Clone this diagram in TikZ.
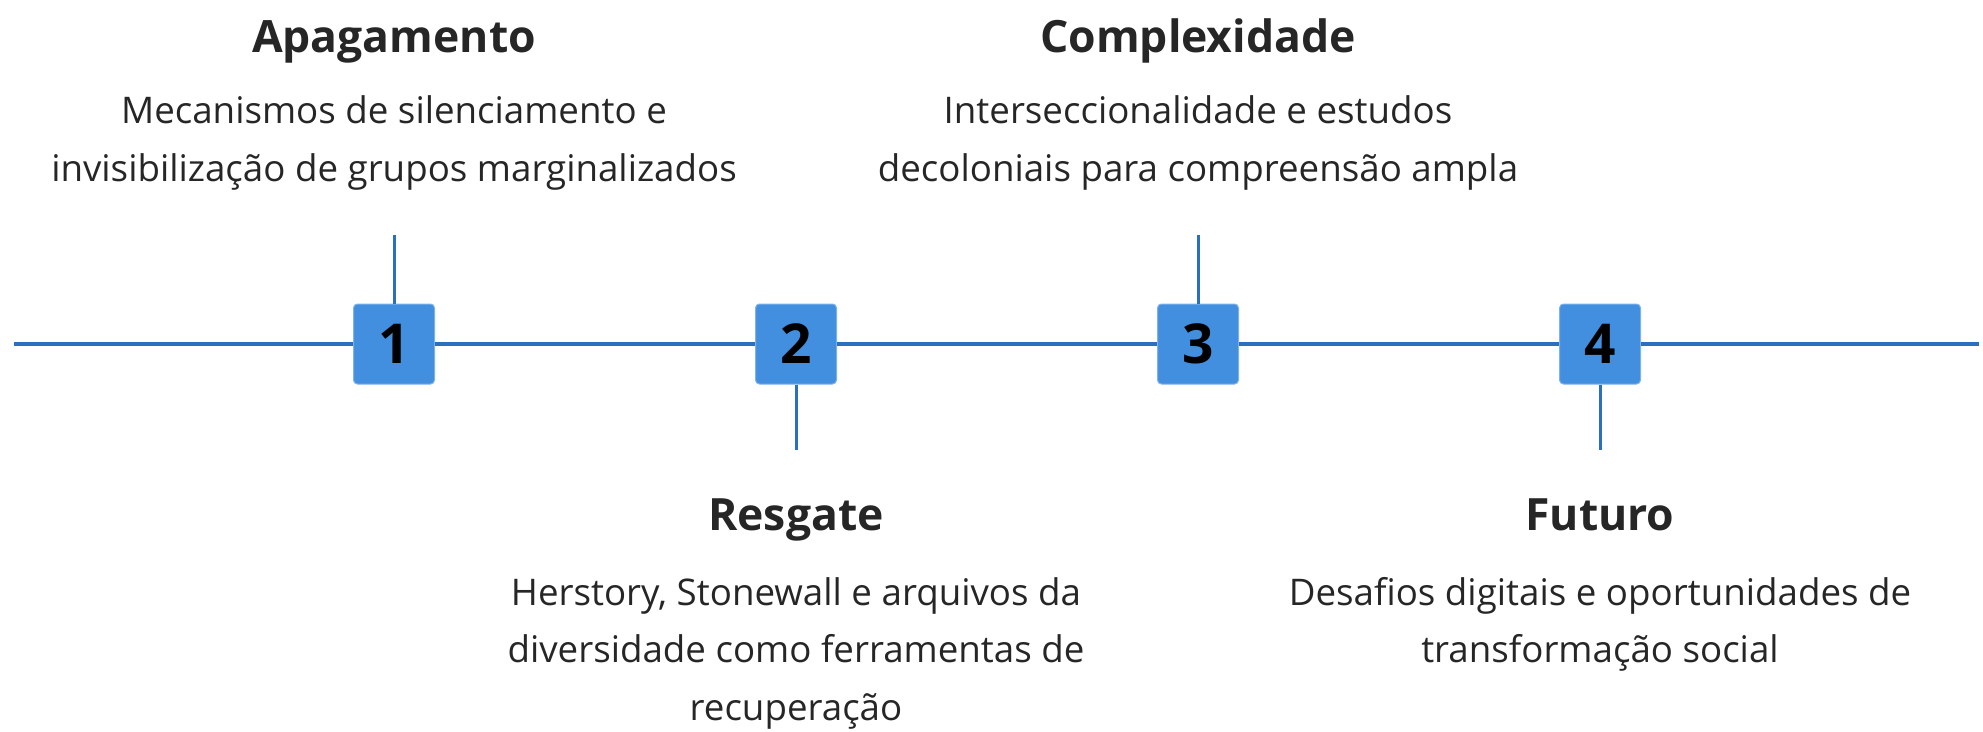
\documentclass[tikz,border=0pt]{standalone}
\usepackage{fontspec}
\setmainfont{Open Sans}
\definecolor{boxfill}{HTML}{428EDF}
\definecolor{boxedge}{HTML}{7FB2EA}
\definecolor{linec}{HTML}{2B6FBF}
\definecolor{txt}{HTML}{262626}
\tikzset{
  numbox/.style={draw=boxedge, line width=1pt, fill=boxfill, rounded corners=4pt,
    minimum width=81pt, minimum height=80pt, inner sep=0pt,
    font=\fontsize{55}{55}\selectfont\bfseries, text=black},
  tl/.style={line width=4pt, draw=linec},
  vl/.style={line width=3pt, draw=linec},
  ttl/.style={anchor=base, inner sep=0pt, font=\fontsize{44.5}{44.5}\selectfont\bfseries, text=txt},
  dsc/.style={anchor=base, inner sep=0pt, font=\fontsize{36.7}{36.7}\selectfont, text=txt}
}
\begin{document}
\begin{tikzpicture}[x=1pt,y=-1pt]
\useasboundingbox (0,0) rectangle (1983,731);
\coordinate (lstart) at (14,344);
\coordinate (lend) at (1979,344);
\node[numbox] (b1) at (394,344) {1};
\node[numbox] (b2) at (796,344) {2};
\node[numbox] (b3) at (1198,344) {3};
\node[numbox] (b4) at (1600,344) {4};
\coordinate (t1) at (394,235);
\coordinate (t2) at (796,450);
\coordinate (t3) at (1198,235);
\coordinate (t4) at (1600,450);
\draw[tl] (lstart) -- (b1.west);
\draw[tl] (b1.east) -- (b2.west);
\draw[tl] (b2.east) -- (b3.west);
\draw[tl] (b3.east) -- (b4.west);
\draw[tl] (b4.east) -- (lend);
\draw[vl] (t1) -- (b1.north);
\draw[vl] (b2.south) -- (t2);
\draw[vl] (t3) -- (b3.north);
\draw[vl] (b4.south) -- (t4);
% top texts
\node[ttl] (h1) at (394,52) {Apagamento};
\node[dsc] (d1a) at (394,123) {Mecanismos de silenciamento e};
\node[dsc] (d1b) at (394,181) {invisibilização de grupos marginalizados};
\node[ttl] (h3) at (1198,52) {Complexidade};
\node[dsc] (d3a) at (1198,123) {Interseccionalidade e estudos};
\node[dsc] (d3b) at (1198,181) {decoloniais para compreensão ampla};
% bottom texts
\node[ttl] (h2) at (796,530) {Resgate};
\node[dsc] (d2a) at (796,605) {Herstory, Stonewall e arquivos da};
\node[dsc] (d2b) at (796,662) {diversidade como ferramentas de};
\node[dsc] (d2c) at (796,720) {recuperação};
\node[ttl] (h4) at (1600,530) {Futuro};
\node[dsc] (d4a) at (1600,605) {Desafios digitais e oportunidades de};
\node[dsc] (d4b) at (1600,662) {transformação social};
\end{tikzpicture}
\end{document}
